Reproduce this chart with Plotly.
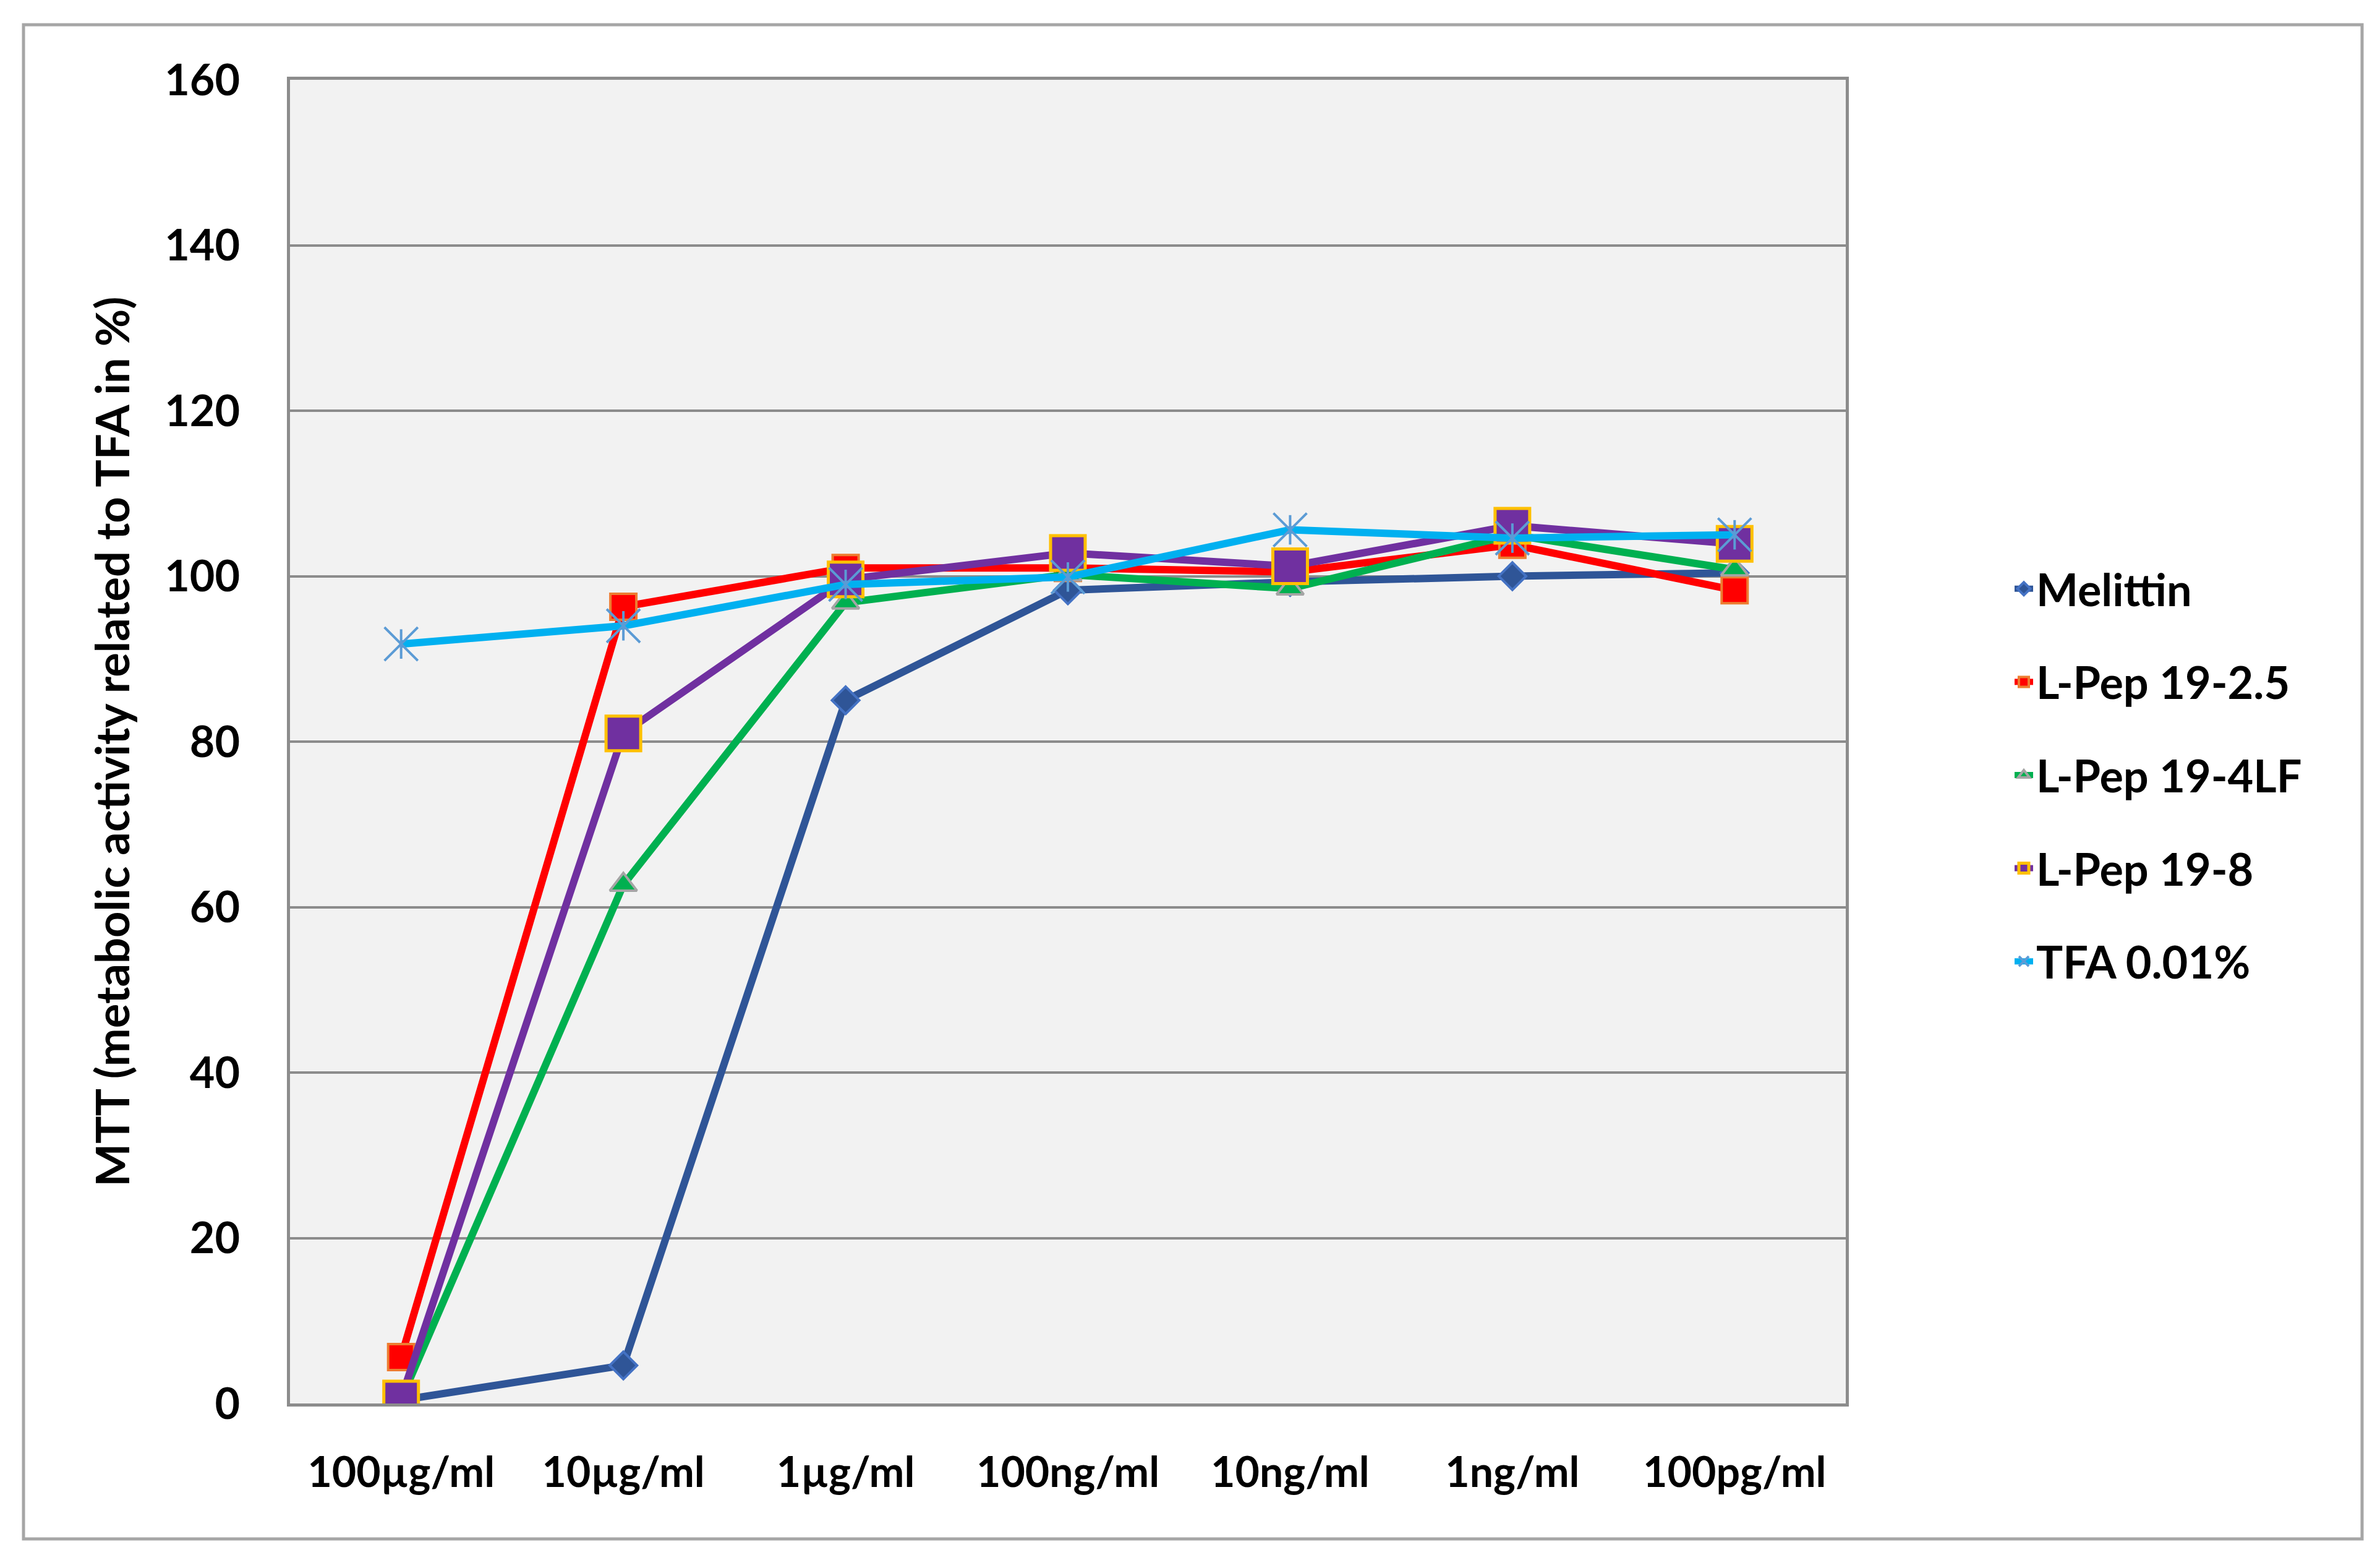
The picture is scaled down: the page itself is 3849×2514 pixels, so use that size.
import plotly.graph_objects as go

categories = ["100µg/ml", "10µg/ml", "1µg/ml", "100ng/ml", "10ng/ml", "1ng/ml", "100pg/ml"]
melittin = [0.4, 4.6, 85.0, 98.3, 99.3, 100.0, 100.4]
lpep_2_5 = [5.6, 96.3, 101.0, 101.0, 100.5, 103.8, 98.3]
lpep_4lf = [0.5, 62.7, 96.8, 100.2, 98.5, 105.0, 100.8]
lpep_8 = [0.6, 81.0, 99.6, 102.8, 101.2, 106.1, 103.9]
tfa = [91.8, 94.0, 99.0, 99.9, 105.6, 104.6, 105.0]
y_ticks = [0, 20, 40, 60, 80, 100, 120, 140, 160]

W, H = 3849, 2514
L, R, T, B = 461, 2977, 121, 2261
FONT = "Lato"

fig = go.Figure()
LW = 12

fig.add_trace(go.Scatter(x=categories, y=melittin, name="Melittin", mode="lines+markers",
                         legendgroup="a",
                         line=dict(color="#2F5597", width=LW),
                         marker=dict(symbol="diamond", size=34, color="#2F5597",
                                     line=dict(color="#4472C4", width=4))))
fig.add_trace(go.Scatter(x=categories, y=lpep_2_5, name="L-Pep 19-2.5", mode="lines+markers",
                         legendgroup="b",
                         line=dict(color="#FF0000", width=LW),
                         marker=dict(symbol="square", size=42, color="#FF0000",
                                     line=dict(color="#ED7D31", width=4))))
fig.add_trace(go.Scatter(x=categories, y=lpep_4lf, name="L-Pep 19-4LF", mode="lines+markers",
                         legendgroup="c",
                         line=dict(color="#00B050", width=LW),
                         marker=dict(symbol="triangle-up", size=38, color="#00B050",
                                     line=dict(color="#A5A5A5", width=4))))
fig.add_trace(go.Scatter(x=categories, y=lpep_8, name="L-Pep 19-8", mode="lines+markers",
                         legendgroup="d",
                         line=dict(color="#7030A0", width=LW),
                         marker=dict(symbol="square", size=56, color="#7030A0",
                                     line=dict(color="#FFC000", width=5))))
fig.add_trace(go.Scatter(x=categories, y=tfa, name="TFA 0.01%", mode="lines+markers",
                         legendgroup="e",
                         line=dict(color="#00B0F0", width=LW),
                         marker=dict(symbol="x-thin-open", size=54, color="#5B9BD5",
                                     line=dict(color="#5B9BD5", width=4))))
fig.add_trace(go.Scatter(x=categories, y=tfa, name="TFA 0.01%", mode="markers",
                         legendgroup="e", showlegend=False,
                         marker=dict(symbol="line-ns-open", size=34, color="#5B9BD5",
                                     line=dict(color="#5B9BD5", width=4))))

grid_col = "#8C8C8C"
fig.update_layout(
    width=W, height=H,
    margin=dict(l=L, r=W - R, t=T, b=H - B, pad=0),
    paper_bgcolor="white",
    plot_bgcolor="#F2F2F2",
    font=dict(family=FONT, size=70, color="black"),
    showlegend=True,
    legend=dict(x=(3245 - L) / (R - L), xanchor="left", y=(B - 1245) / (B - T), yanchor="middle",
                font=dict(family=FONT, size=72, color="black", weight="bold"),
                tracegroupgap=54, bgcolor="rgba(0,0,0,0)", itemwidth=30),
    xaxis=dict(type="category", categoryorder="array", categoryarray=categories,
               range=[-0.5, len(categories) - 0.5],
               showgrid=False, showline=True, linecolor=grid_col, linewidth=5, mirror=True,
               ticks="outside", ticklen=48, tickcolor="rgba(0,0,0,0)",
               tickfont=dict(family=FONT, size=68, color="black", weight="bold"),
               zeroline=False),
    yaxis=dict(range=[0, 160], tickvals=y_ticks, showgrid=True, gridcolor=grid_col, gridwidth=4,
               showline=True, linecolor=grid_col, linewidth=5, mirror=True,
               ticks="outside", ticklen=62, tickcolor="rgba(0,0,0,0)",
               tickfont=dict(family=FONT, size=70, color="black", weight="bold"),
               zeroline=False,
               title=dict(text="<b>MTT (metabolic activity related to TFA in %)</b>",
                          font=dict(family=FONT, size=74, color="black", weight="bold"),
                          standoff=34)),
)

# outer chart border
fig.add_shape(type="rect", xref="paper", yref="paper",
              x0=(30 - L) / (R - L), x1=(3812 - L) / (R - L),
              y0=(B - 2480) / (B - T), y1=(B - 32) / (B - T),
              line=dict(color="#A6A6A6", width=5), fillcolor="rgba(0,0,0,0)", layer="below")

fig.write_html("out.html")
